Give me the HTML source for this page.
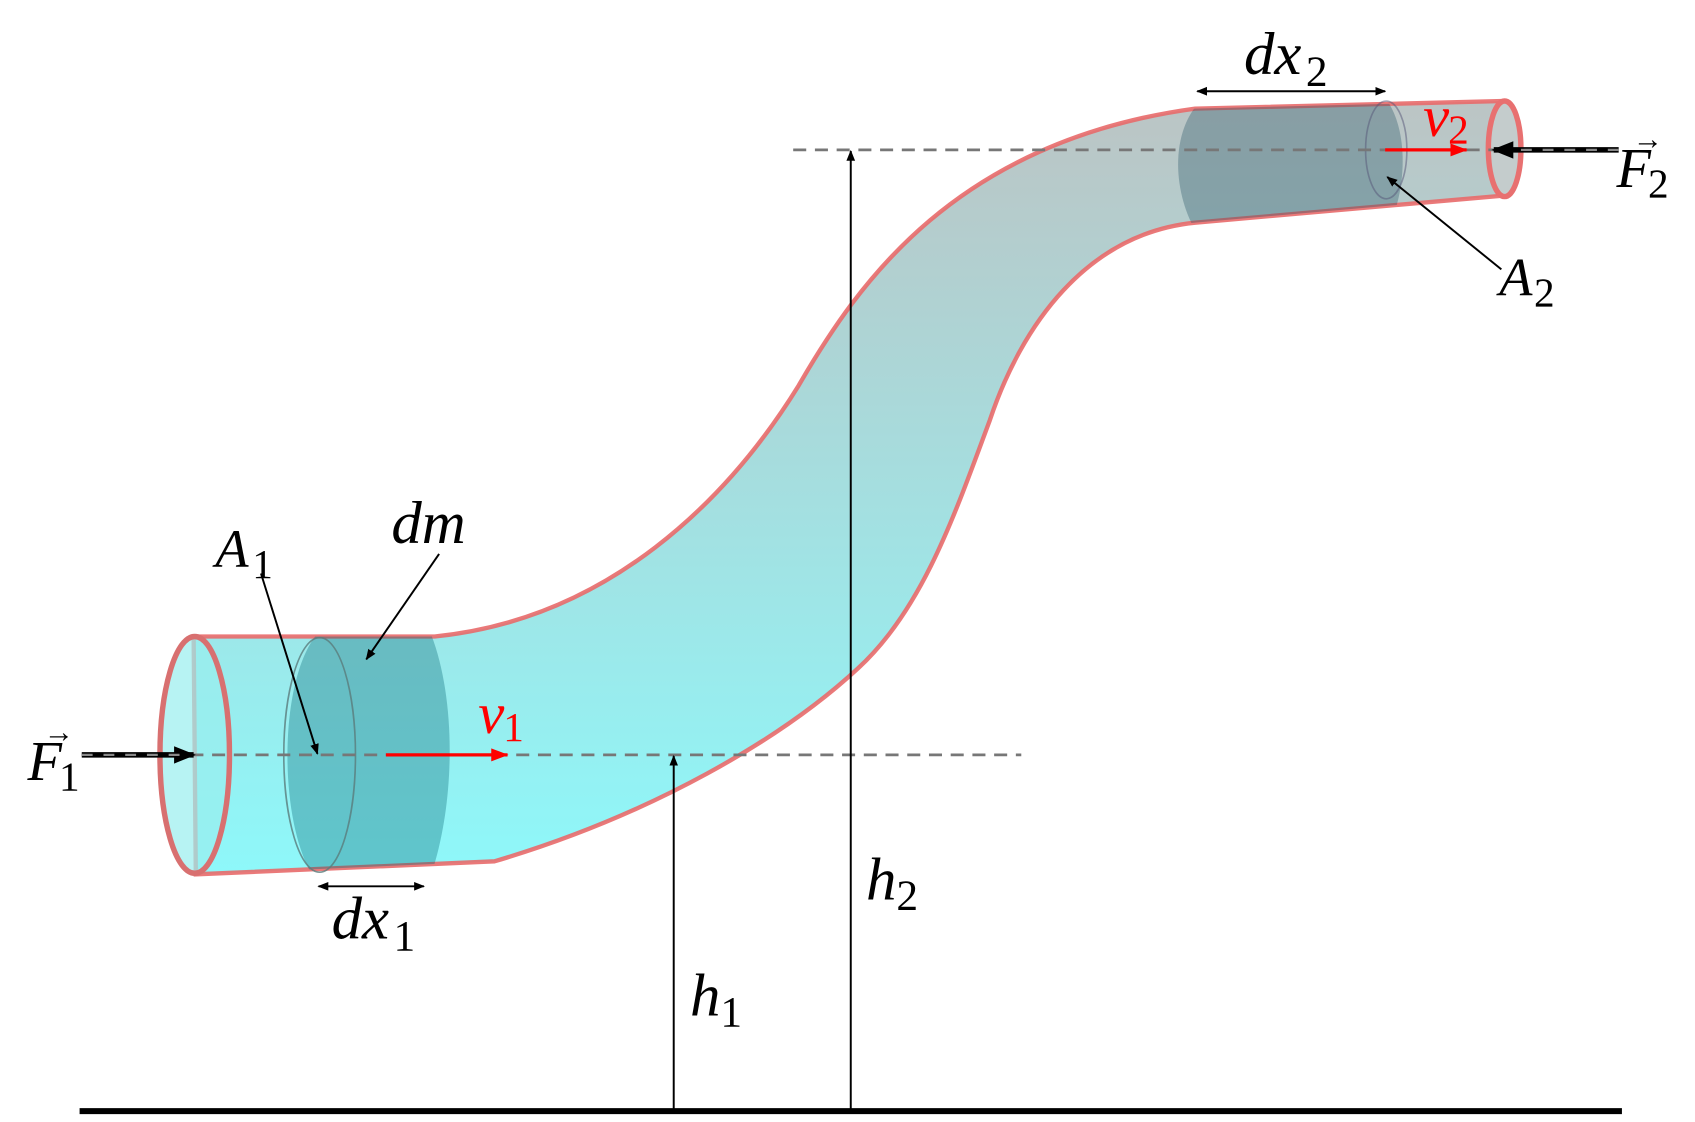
<!DOCTYPE html>
<html><head><meta charset="utf-8">
<style>
html,body{margin:0;padding:0;background:#fff;}
svg{display:block;}
text{font-family:"Liberation Serif",serif;font-style:italic;}
.sub{font-style:normal;}
</style></head>
<body>
<svg width="1695" height="1122" viewBox="0 0 1560 1033" xmlns="http://www.w3.org/2000/svg">
<defs>
<linearGradient id="pg" x1="0" y1="90" x2="0" y2="805" gradientUnits="userSpaceOnUse">
<stop offset="0" stop-color="#bcc4c4"/>
<stop offset="1" stop-color="#8ef8fa"/>
</linearGradient>
<clipPath id="pipeclip"><path d="M178,586 L400,586 C560,570 670,460 735,355 C790,260 880,130 1100,100 L1385,93 L1385,180 L1100,205 C1000,215 940,300 911,387 C880,470 850,560 790,615 C720,680 600,750 455,793 L180,805 Z"/></clipPath>
<marker id="ab" markerWidth="10" markerHeight="10" refX="9" refY="5" orient="auto" markerUnits="userSpaceOnUse"><path d="M0,1 L10,5 L0,9 Z" fill="#000"/></marker>
<marker id="abs" markerWidth="10" markerHeight="10" refX="1" refY="5" orient="auto" markerUnits="userSpaceOnUse"><path d="M10,1 L0,5 L10,9 Z" fill="#000"/></marker>
<marker id="abig" markerWidth="20" markerHeight="20" refX="18" refY="10" orient="auto" markerUnits="userSpaceOnUse"><path d="M0,2 L20,10 L0,18 Z" fill="#000"/></marker>
<marker id="ar" markerWidth="16" markerHeight="14" refX="15" refY="7" orient="auto" markerUnits="userSpaceOnUse"><path d="M0,1 L16,7 L0,13 Z" fill="#f00"/></marker>
</defs>

<path d="M178,586 L400,586 C560,570 670,460 735,355 C790,260 880,130 1100,100 L1385,93 L1385,180 L1100,205 C1000,215 940,300 911,387 C880,470 850,560 790,615 C720,680 600,750 455,793 L180,805 Z" fill="url(#pg)" stroke="#e86a6a" stroke-width="4" stroke-opacity="0.9"/>

<g clip-path="url(#pipeclip)">
<path d="M295,580 C255,620 255,760 290,810 L395,810 C420,740 420,640 395,580 Z" fill="#006070" fill-opacity="0.33"/>
<path d="M1108,90 C1075,120 1080,180 1102,215 L1275,215 C1295,180 1298,120 1275,90 Z" fill="#205060" fill-opacity="0.33"/>
</g>
<ellipse cx="294" cy="695" rx="33" ry="108" fill="none" stroke="#5a7c7c" stroke-width="1.5" stroke-opacity="0.8"/>
<ellipse cx="1276" cy="138" rx="19" ry="45" fill="none" stroke="#557" stroke-width="1.5" stroke-opacity="0.5"/>

<ellipse cx="179" cy="695" rx="32" ry="109" fill="#98eeee" fill-opacity="0.7" stroke="#d87070" stroke-width="5"/>
<ellipse cx="1385" cy="137" rx="15" ry="44" fill="#c4cccc" stroke="#e87070" stroke-width="5"/>

<line x1="75" y1="695" x2="940" y2="695" stroke="#777" stroke-width="2.5" stroke-dasharray="12,8"/>
<line x1="730" y1="138" x2="1490" y2="138" stroke="#777" stroke-width="2.5" stroke-dasharray="12,8"/>

<line x1="75" y1="695" x2="178" y2="695" stroke="#000" stroke-width="5" marker-end="url(#abig)"/>
<line x1="75" y1="695" x2="165" y2="695" stroke="#888" stroke-width="2" stroke-dasharray="10,10"/>
<line x1="1490" y1="138" x2="1375" y2="138" stroke="#000" stroke-width="5" marker-end="url(#abig)"/>
<line x1="1490" y1="138" x2="1390" y2="138" stroke="#888" stroke-width="2" stroke-dasharray="10,10"/>

<line x1="355" y1="695" x2="467" y2="695" stroke="#f00" stroke-width="3" marker-end="url(#ar)"/>
<line x1="1275" y1="138" x2="1350" y2="138" stroke="#f00" stroke-width="3" marker-end="url(#ar)"/>

<line x1="620" y1="1022" x2="620" y2="696" stroke="#000" stroke-width="1.8" marker-end="url(#ab)"/>
<line x1="783" y1="1022" x2="783" y2="139" stroke="#000" stroke-width="1.8" marker-end="url(#ab)"/>
<line x1="73" y1="1023" x2="1493" y2="1023" stroke="#000" stroke-width="5.5"/>

<line x1="293" y1="816" x2="390" y2="816" stroke="#000" stroke-width="1.8" marker-start="url(#abs)" marker-end="url(#ab)"/>
<line x1="1102" y1="84" x2="1275" y2="84" stroke="#000" stroke-width="1.8" marker-start="url(#abs)" marker-end="url(#ab)"/>

<line x1="240" y1="528" x2="292" y2="694" stroke="#000" stroke-width="1.8" marker-end="url(#ab)"/>
<line x1="404" y1="510" x2="337" y2="607" stroke="#000" stroke-width="1.8" marker-end="url(#ab)"/>
<line x1="1382" y1="248" x2="1277" y2="163" stroke="#000" stroke-width="1.8" marker-end="url(#ab)"/>

<g><text x="25" y="718" font-size="52">F</text><text class="sub" x="54" y="728" font-size="38">1</text><text class="sub" x="40" y="683" font-size="28">→</text></g>
<g><text x="1488" y="172" font-size="52">F</text><text class="sub" x="1517" y="182" font-size="38">2</text><text class="sub" x="1503" y="137" font-size="28">→</text></g>
<g fill="#f00"><text x="440" y="675" font-size="54">v</text><text class="sub" x="463" y="682" font-size="38">1</text></g>
<g fill="#f00"><text x="1310" y="125" font-size="54">v</text><text class="sub" x="1333" y="132" font-size="38">2</text></g>
<g><text x="198" y="522" font-size="50">A</text><text class="sub" x="232" y="532" font-size="38">1</text></g>
<g><text x="1380" y="272" font-size="50">A</text><text class="sub" x="1412" y="282" font-size="38">2</text></g>
<text x="360" y="500" font-size="56">dm</text>
<g><text x="305" y="864" font-size="56">dx</text><text class="sub" x="362" y="875" font-size="40">1</text></g>
<g><text x="1145" y="68" font-size="56">dx</text><text class="sub" x="1202" y="79" font-size="40">2</text></g>
<g><text x="635" y="935" font-size="56">h</text><text class="sub" x="663" y="945" font-size="40">1</text></g>
<g><text x="797" y="828" font-size="56">h</text><text class="sub" x="825" y="838" font-size="40">2</text></g>
</svg>
</body></html>
